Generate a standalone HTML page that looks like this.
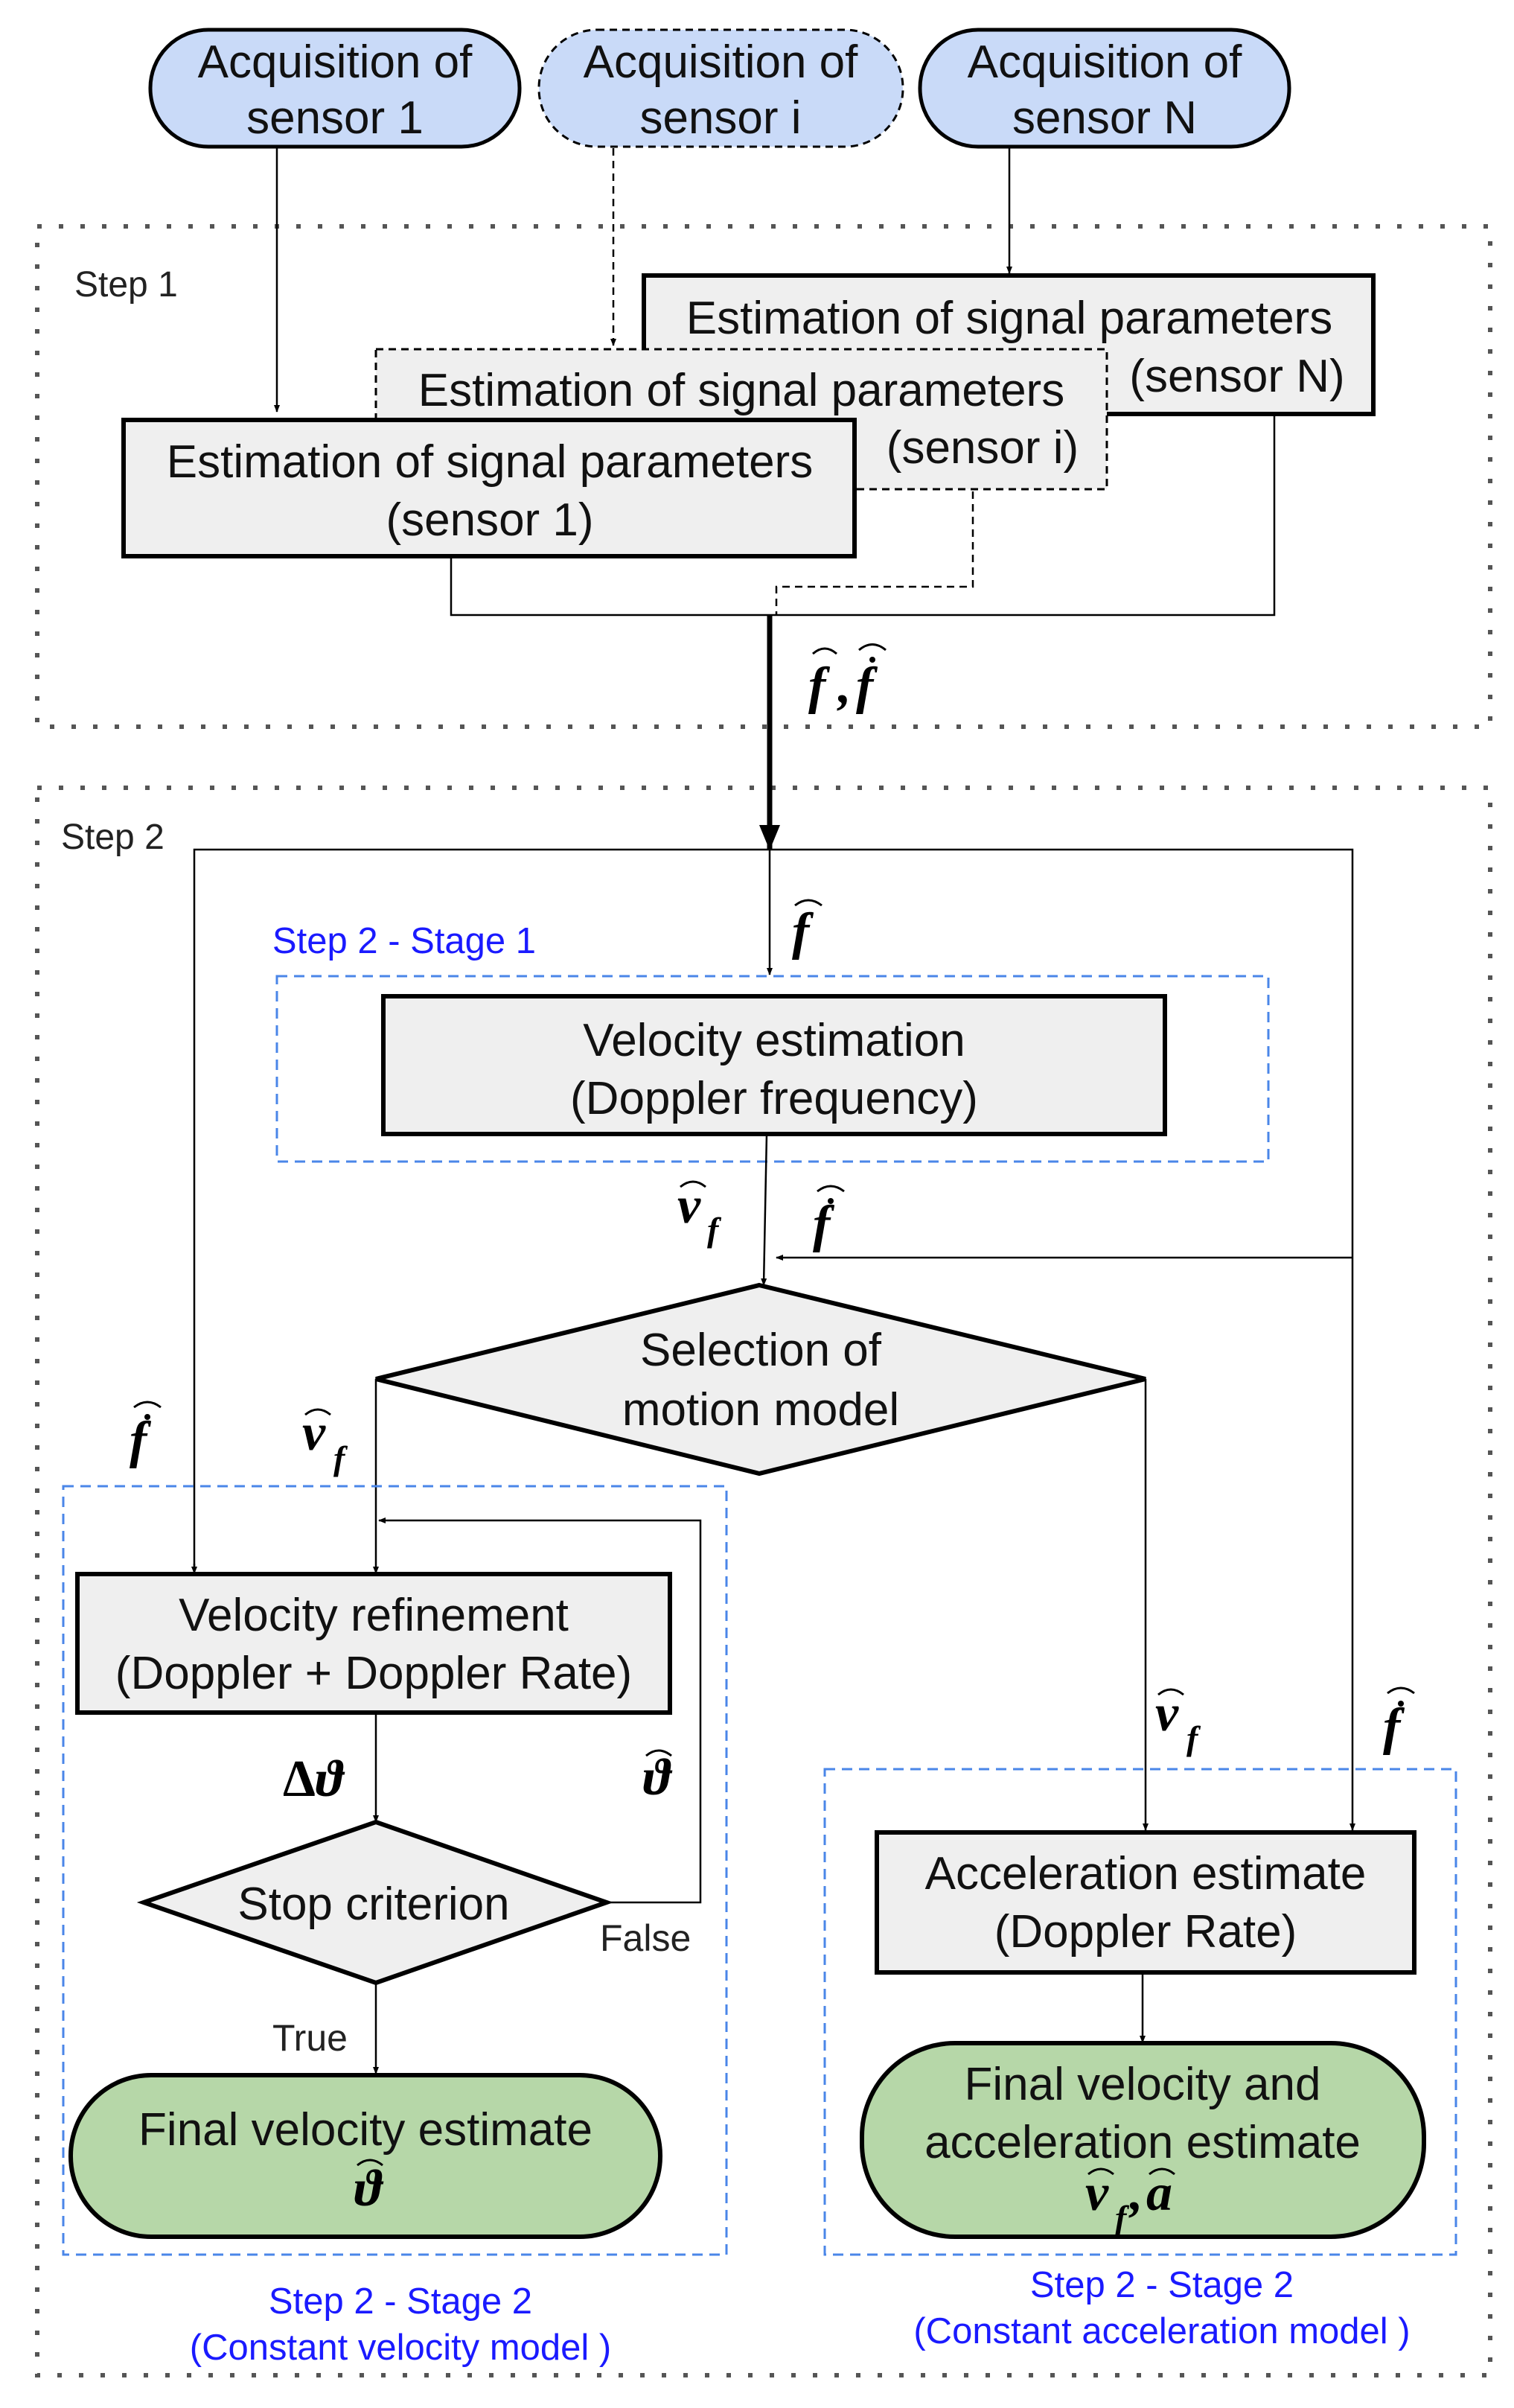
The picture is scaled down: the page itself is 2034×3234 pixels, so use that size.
<!DOCTYPE html>
<html><head><meta charset="utf-8"><style>html,body{margin:0;padding:0;background:#fff}svg{display:block}</style></head>
<body>
<svg width="2034" height="3234" viewBox="0 0 2034 3234" xmlns="http://www.w3.org/2000/svg">
<defs>
<marker id="a" markerWidth="10" markerHeight="10" refX="9" refY="5" orient="auto" markerUnits="userSpaceOnUse" viewBox="0 0 10 10"><path d="M0,1 L10,5 L0,9 z" fill="#000"/></marker>
<marker id="ab" markerWidth="34" markerHeight="36" refX="33" refY="18" orient="auto" markerUnits="userSpaceOnUse" viewBox="0 0 34 36"><path d="M0,4 L34,18 L0,32 z" fill="#000"/></marker>
</defs>
<style>
.t{font-family:"Liberation Sans",sans-serif;font-size:62px;fill:#111;text-anchor:middle}
.s{font-family:"Liberation Sans",sans-serif;font-size:48px;fill:#222}
.b{font-family:"Liberation Sans",sans-serif;font-size:49px;fill:#1a1aff;text-anchor:middle}
.m{font-family:"Liberation Serif",serif;font-size:70px;font-style:italic;font-weight:bold;fill:#000}
.ms{font-family:"Liberation Serif",serif;font-size:46px;font-style:italic;font-weight:bold;fill:#000}
.h{fill:none;stroke:#000;stroke-width:3}
.dot{fill:none;stroke:#555;stroke-width:6;stroke-dasharray:6 23;stroke-linecap:butt}
.bl{fill:none;stroke:#4a86e8;stroke-width:3;stroke-dasharray:14 9}
.ln{fill:none;stroke:#000;stroke-width:2.5}
</style>

<rect x="50" y="304" width="1952" height="672" class="dot"/>
<rect x="50" y="1058" width="1952" height="2132" class="dot"/>
<text x="100" y="398" class="s">Step 1</text>
<text x="82" y="1140" class="s">Step 2</text>

<rect x="202" y="40" width="496" height="157" rx="78" fill="#c9daf8" stroke="#000" stroke-width="5"/>
<rect x="724" y="40" width="489" height="157" rx="78" fill="#c9daf8" stroke="#000" stroke-width="3" stroke-dasharray="10 7"/>
<rect x="1236" y="40" width="496" height="157" rx="78" fill="#c9daf8" stroke="#000" stroke-width="5"/>
<text x="450" y="104" class="t">Acquisition of</text><text x="450" y="179" class="t">sensor 1</text>
<text x="968" y="104" class="t">Acquisition of</text><text x="968" y="179" class="t">sensor i</text>
<text x="1484" y="104" class="t">Acquisition of</text><text x="1484" y="179" class="t">sensor N</text>

<line x1="372" y1="199" x2="372" y2="553" class="ln" marker-end="url(#a)"/>
<line x1="824" y1="199" x2="824" y2="464" class="ln" stroke-dasharray="10 7" marker-end="url(#a)"/>
<line x1="1356" y1="199" x2="1356" y2="367" class="ln" marker-end="url(#a)"/>

<rect x="865" y="370" width="980" height="186" fill="#efefef" stroke="#000" stroke-width="6"/>
<text x="1356" y="448" class="t">Estimation of signal parameters</text>
<text x="1662" y="526" class="t">(sensor N)</text>
<rect x="505" y="469" width="982" height="188" fill="#efefef" stroke="#000" stroke-width="3" stroke-dasharray="10 7"/>
<text x="996" y="545" class="t">Estimation of signal parameters</text>
<text x="1320" y="622" class="t">(sensor i)</text>
<rect x="166" y="564" width="982" height="183" fill="#efefef" stroke="#000" stroke-width="6"/>
<text x="658" y="641" class="t">Estimation of signal parameters</text>
<text x="658" y="719" class="t">(sensor 1)</text>

<polyline points="606,750 606,826 1712,826 1712,558" class="ln"/>
<polyline points="1307,660 1307,788 1043,788 1043,826" class="ln" stroke-dasharray="10 7"/>
<line x1="1034" y1="826" x2="1034" y2="1141" stroke="#000" stroke-width="7" marker-end="url(#ab)"/>
<text x="1086" y="944" class="m">f</text><text x="1126" y="944" class="m">,</text><text x="1150" y="944" class="m">f</text>
<path d="M1092,878 Q1108,864 1124,878" class="h"/>
<path d="M1154,873 Q1172,858 1190,873" class="h"/>
<circle cx="1172" cy="886" r="4" fill="#000"/>

<polyline points="261,2113 261,1141 1817,1141 1817,2456" class="ln"/>
<line x1="1817" y1="2454" x2="1817" y2="2458" class="ln" marker-end="url(#a)"/>
<line x1="261" y1="2100" x2="261" y2="2113" class="ln" marker-end="url(#a)"/>
<line x1="1034" y1="1141" x2="1034" y2="1309" class="ln" marker-end="url(#a)"/>
<text x="1064" y="1274" class="m">f</text><path d="M1068,1216 Q1086,1202 1104,1216" class="h"/>

<text x="543" y="1280" class="b">Step 2 - Stage 1</text>
<rect x="372" y="1311" width="1332" height="249" class="bl"/>
<rect x="515" y="1338" width="1050" height="185" fill="#efefef" stroke="#000" stroke-width="6"/>
<text x="1040" y="1418" class="t">Velocity estimation</text>
<text x="1040" y="1496" class="t">(Doppler frequency)</text>

<line x1="1030" y1="1523" x2="1026" y2="1726" class="ln" marker-end="url(#a)"/>
<text x="910" y="1642" class="m">v</text><text x="950" y="1667" class="ms">f</text><path d="M914,1594 Q931,1580 948,1594" class="h"/>
<text x="1092" y="1667" class="m">f</text><path d="M1098,1600 Q1116,1586 1134,1600" class="h"/><circle cx="1116" cy="1613" r="4" fill="#000"/>
<line x1="1817" y1="1689" x2="1043" y2="1689" class="ln" marker-end="url(#a)"/>

<polygon points="1020,1726 1539,1852 1020,1979 505,1852" fill="#efefef" stroke="#000" stroke-width="6"/>
<text x="1022" y="1834" class="t">Selection of</text>
<text x="1022" y="1914" class="t">motion model</text>

<line x1="505" y1="1852" x2="505" y2="2113" class="ln" marker-end="url(#a)"/>
<text x="174" y="1957" class="m">f</text><path d="M180,1890 Q198,1876 216,1890" class="h"/><circle cx="198" cy="1903" r="4" fill="#000"/>
<text x="406" y="1947" class="m">v</text><text x="448" y="1974" class="ms">f</text><path d="M410,1900 Q427,1886 444,1900" class="h"/>

<rect x="85" y="1996" width="891" height="1032" class="bl"/>
<polyline points="812,2555 941,2555 941,2042 509,2042" class="ln" marker-end="url(#a)"/>
<rect x="104" y="2114" width="796" height="186" fill="#efefef" stroke="#000" stroke-width="6"/>
<text x="502" y="2190" class="t">Velocity refinement</text>
<text x="502" y="2268" class="t">(Doppler + Doppler Rate)</text>
<line x1="505" y1="2300" x2="505" y2="2447" class="ln" marker-end="url(#a)"/>
<text x="380" y="2412" class="m" style="font-style:normal">Δ</text><text x="424" y="2412" class="m">ϑ</text>
<text x="864" y="2410" class="m">ϑ</text><path d="M868,2358 Q885,2344 902,2358" class="h"/>
<polygon points="505,2447 815,2555 505,2663 193,2555" fill="#efefef" stroke="#000" stroke-width="6"/>
<text x="502" y="2578" class="t">Stop criterion</text>
<text x="806" y="2620" class="s" style="font-size:50px">False</text>
<text x="366" y="2754" class="s" style="font-size:50px">True</text>
<line x1="505" y1="2663" x2="505" y2="2785" class="ln" marker-end="url(#a)"/>
<rect x="95" y="2787" width="792" height="217" rx="108" fill="#b6d7a8" stroke="#000" stroke-width="6"/>
<text x="491" y="2881" class="t">Final velocity estimate</text>
<text x="476" y="2962" class="m">ϑ</text><path d="M480,2908 Q497,2894 514,2908" class="h"/>
<text x="538" y="3107" class="b">Step 2 - Stage 2</text>
<text x="538" y="3169" class="b">(Constant velocity model )</text>

<polyline points="1539,1852 1539,2458" class="ln" marker-end="url(#a)"/>
<text x="1552" y="2324" class="m">v</text><text x="1594" y="2350" class="ms">f</text><path d="M1556,2276 Q1573,2262 1590,2276" class="h"/>
<text x="1858" y="2342" class="m">f</text><path d="M1864,2274 Q1882,2260 1900,2274" class="h"/><circle cx="1882" cy="2288" r="4" fill="#000"/>
<rect x="1108" y="2376" width="848" height="652" class="bl"/>
<rect x="1178" y="2461" width="722" height="188" fill="#efefef" stroke="#000" stroke-width="6"/>
<text x="1539" y="2537" class="t">Acceleration estimate</text>
<text x="1539" y="2615" class="t">(Doppler Rate)</text>
<line x1="1535" y1="2649" x2="1535" y2="2743" class="ln" marker-end="url(#a)"/>
<rect x="1158" y="2744" width="755" height="260" rx="125" fill="#b6d7a8" stroke="#000" stroke-width="6"/>
<text x="1535" y="2820" class="t">Final velocity and</text>
<text x="1535" y="2898" class="t">acceleration estimate</text>
<text x="1458" y="2968" class="m">v</text><text x="1498" y="2994" class="ms">f</text><text x="1518" y="2968" class="m">,</text><text x="1540" y="2968" class="m">a</text>
<path d="M1462,2920 Q1479,2906 1496,2920" class="h"/><path d="M1544,2920 Q1561,2906 1578,2920" class="h"/>
<text x="1561" y="3085" class="b">Step 2 - Stage 2</text>
<text x="1561" y="3147" class="b">(Constant acceleration model )</text>
</svg>
</body></html>
